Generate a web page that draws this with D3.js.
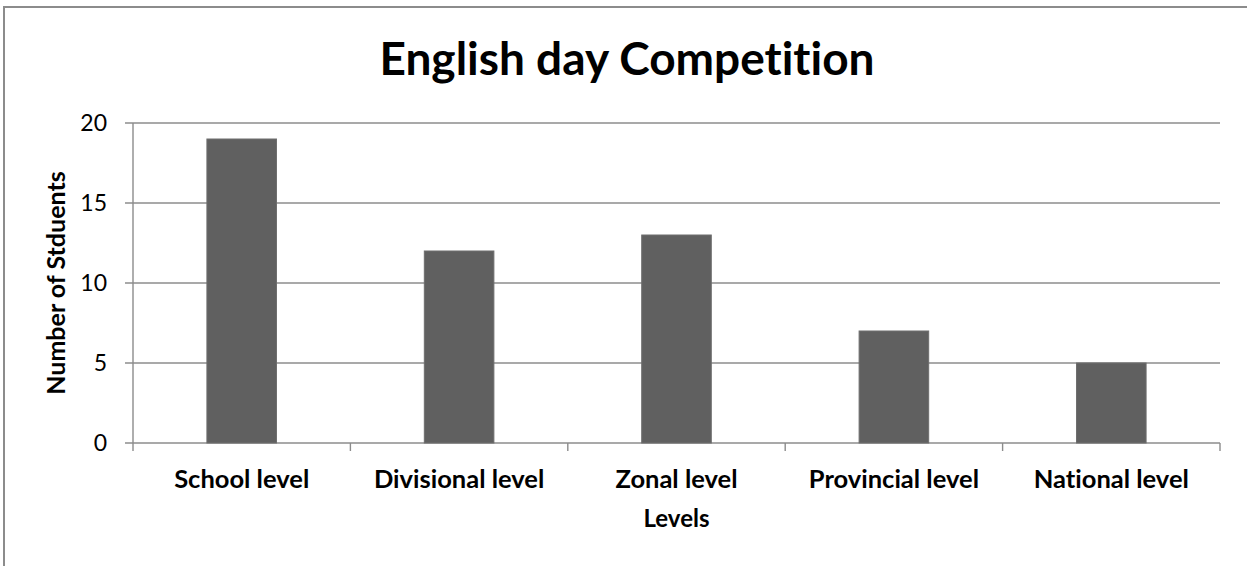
<!DOCTYPE html>
<html>
<head>
<meta charset="utf-8">
<script src="https://cdn.jsdelivr.net/npm/d3@7"></script>
<style>
  body { margin: 0; background: #fff; }
  svg { display: block; }
  text { font-variant-ligatures: none; }
</style>
</head>
<body>
<svg id="chart"></svg>
<script>
var categories = ['School level', 'Divisional level', 'Zonal level', 'Provincial level', 'National level']
var students = [19, 12, 13, 7, 5]
var yTicks = [0, 5, 10, 15, 20]

var width = 1247
var height = 566
var margin = { top: 123, right: 27, bottom: 123, left: 133 }
var font = 'Lato, "Open Sans", sans-serif'

var svg = d3.select('#chart')
  .attr('width', width)
  .attr('height', height)

// outer frame (only left and top edges are visible in the crop)
svg.append('path')
  .attr('d', `M4,${height} V7 H${width}`)
  .attr('fill', 'none')
  .attr('stroke', '#8c8c8c')
  .attr('stroke-width', 2)

var x = d3.scaleBand()
  .domain(categories)
  .range([margin.left, width - margin.right])
  .paddingInner(0.68)
  .paddingOuter(0.34)

var xEdge = d3.scaleLinear()
  .domain([0, categories.length])
  .range([margin.left, width - margin.right])

var y = d3.scaleLinear()
  .domain([0, 20])
  .range([height - margin.bottom, margin.top])

// gridlines
svg.append('g')
  .selectAll('line')
  .data(yTicks)
  .join('line')
  .attr('x1', margin.left - 8)
  .attr('x2', width - margin.right)
  .attr('y1', (d) => y(d))
  .attr('y2', (d) => y(d))
  .attr('stroke', '#8c8c8c')
  .attr('stroke-width', 1.4)

// y axis line
svg.append('line')
  .attr('x1', margin.left)
  .attr('x2', margin.left)
  .attr('y1', y(20))
  .attr('y2', y(0) + 8)
  .attr('stroke', '#8c8c8c')
  .attr('stroke-width', 1.4)

// x axis category separators
svg.append('g')
  .selectAll('line')
  .data(d3.range(1, categories.length + 1))
  .join('line')
  .attr('x1', (d) => xEdge(d))
  .attr('x2', (d) => xEdge(d))
  .attr('y1', y(0))
  .attr('y2', y(0) + 8)
  .attr('stroke', '#8c8c8c')
  .attr('stroke-width', 1.4)

// bars
svg.append('g')
  .selectAll('rect')
  .data(students)
  .join('rect')
  .attr('x', (d, i) => x(categories[i]))
  .attr('width', x.bandwidth())
  .attr('y', (d) => y(d))
  .attr('height', (d) => y(0) - y(d))
  .attr('fill', '#606060')
  .attr('stroke', '#6e6e6e')
  .attr('stroke-width', 1)

// y tick labels
svg.append('g')
  .attr('font-family', font)
  .attr('font-size', 23)
  .attr('text-anchor', 'end')
  .selectAll('text')
  .data(yTicks)
  .join('text')
  .attr('x', 107)
  .attr('y', (d) => y(d) + 8)
  .attr('fill', '#000')
  .text((d) => d)

// category labels
svg.append('g')
  .attr('font-family', font)
  .attr('font-size', 25.5)
  .attr('font-weight', 'bold')
  .attr('text-anchor', 'middle')
  .selectAll('text')
  .data(categories)
  .join('text')
  .attr('x', (d) => x(d) + x.bandwidth() / 2)
  .attr('y', 488)
  .text((d) => d)

// title
svg.append('text')
  .attr('x', 627)
  .attr('y', 75)
  .attr('text-anchor', 'middle')
  .attr('font-family', font)
  .attr('font-size', 46)
  .attr('font-weight', 'bold')
  .text('English day Competition')

// axis titles
svg.append('text')
  .attr('x', (margin.left + width - margin.right) / 2)
  .attr('y', 527)
  .attr('text-anchor', 'middle')
  .attr('font-family', font)
  .attr('font-size', 24)
  .attr('font-weight', 'bold')
  .text('Levels')

svg.append('text')
  .attr('transform', `translate(65, ${y(10)}) rotate(-90)`)
  .attr('text-anchor', 'middle')
  .attr('font-family', font)
  .attr('font-size', 25)
  .attr('font-weight', 'bold')
  .text('Number of Stduents')
</script>
</body>
</html>
